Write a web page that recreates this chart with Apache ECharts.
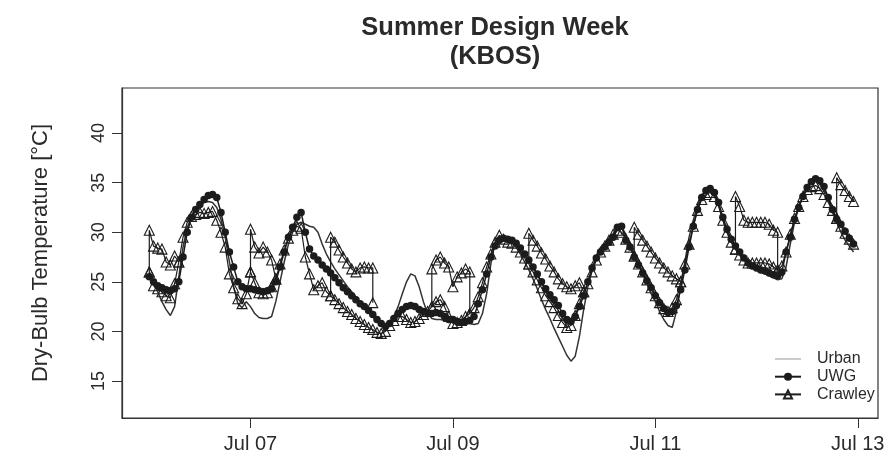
<!DOCTYPE html>
<html>
<head>
<meta charset="utf-8">
<script src="https://cdn.jsdelivr.net/npm/echarts@6/dist/echarts.min.js"></script>
<style>html,body{margin:0;padding:0;background:#fff}#c{width:890px;height:474px}</style>
</head>
<body>
<div id="c"></div>
<script>
// Hours counted from Jul 06 00:00
const xTickHours = [24, 72, 120, 168];
const xTickLabels = ['Jul 07', 'Jul 09', 'Jul 11', 'Jul 13'];
const yTicks = [15, 20, 25, 30, 35, 40];

const urban = [
  26.0, 25.0, 24.0, 23.0, 22.2, 21.6, 22.5, 25.5, 28.5, 30.5, 31.5, 32.2, 32.7, 33.0, 33.1, 33.0, 32.5, 31.3, 29.5, 27.0, 24.5, 22.8, 22.4, 23.0,
  22.5, 21.8, 21.4, 21.3, 21.3, 21.5, 23.0, 25.0, 27.0, 28.8, 30.0, 30.8, 31.0, 30.8, 30.6, 30.5, 30.0, 28.8, 27.8, 27.0, 26.3, 25.7, 25.1, 24.5,
  24.0, 23.5, 23.0, 22.5, 22.0, 21.5, 21.0, 20.6, 20.4, 20.8, 21.5, 22.5, 23.8, 25.0, 25.8, 25.6, 24.5, 23.0, 21.8, 21.3, 21.2, 21.2, 21.1, 21.0,
  21.0, 21.0, 20.9, 20.8, 20.8, 20.7, 20.8, 21.8, 23.8, 26.8, 29.0, 29.3, 29.4, 29.3, 29.0, 28.5, 27.8, 27.0, 26.2, 25.3, 24.3, 23.2, 22.2, 21.3,
  20.3, 19.4, 18.5, 17.6, 17.0, 17.5, 19.5, 22.2, 24.5, 26.3, 27.5, 28.3, 28.8, 29.2, 29.6, 30.2, 30.5, 29.8, 28.8, 27.8, 26.8, 25.8, 24.8, 23.8,
  23.0, 22.0, 21.2, 20.6, 20.4, 22.0, 24.5, 27.0, 29.5, 31.2, 32.7, 33.7, 34.3, 34.5, 34.0, 32.8, 31.3, 30.0, 29.0, 28.3, 27.7, 27.2, 26.8, 26.5,
  26.3, 26.0, 25.8, 25.6, 25.4, 25.2, 25.3, 26.5, 28.8, 31.0, 32.5, 33.7, 34.5, 35.0, 35.2, 35.0, 34.4, 33.3, 32.0, 31.0, 30.0, 29.2, 28.6, 28.0
];

const uwg = [
  25.5, 25.0, 24.6, 24.4, 24.2, 24.1, 24.3, 25.0, 27.5, 30.0, 31.5, 32.3, 32.8, 33.3, 33.7, 33.8, 33.5, 32.0, 30.0, 28.0, 26.5, 25.0, 24.5, 24.3,
  24.3, 24.2, 24.1, 24.0, 24.1, 24.3, 25.0, 26.5, 28.0, 29.5, 30.5, 31.5, 32.0, 30.0, 28.3, 27.6, 27.2, 26.7, 26.3, 25.9, 25.4, 24.9, 24.4, 24.0,
  23.6, 23.2, 22.8, 22.5, 22.1, 21.7, 21.2, 20.8, 20.5, 20.8, 21.3, 21.8, 22.2, 22.5, 22.6, 22.5, 22.2, 22.0, 21.8, 21.8, 21.9, 21.8, 21.5, 21.2,
  21.2, 21.0, 20.9, 21.0, 21.1, 21.5, 22.8, 24.2, 25.8, 27.5, 28.6, 29.2, 29.4, 29.3, 29.2, 28.9, 28.4, 27.8, 27.2, 26.5, 25.8, 25.0, 24.3, 23.7,
  23.2, 22.6, 21.8, 21.2, 21.0, 21.5, 22.5, 23.6, 25.0, 26.4, 27.4, 28.0, 28.5, 29.0, 29.5, 30.5, 30.6, 29.2, 28.5, 27.5, 26.7, 25.9, 25.1, 24.4,
  23.6, 22.9, 22.3, 21.9, 22.0, 22.6, 24.2, 26.2, 28.5, 30.6, 32.3, 33.5, 34.2, 34.4, 34.0, 33.0, 31.5, 30.3, 29.3, 28.6, 28.0, 27.4, 26.9, 26.6,
  26.4, 26.2, 26.1, 25.9, 25.7, 25.6, 26.0, 28.0, 29.5, 31.3, 32.5, 33.6, 34.5, 35.1, 35.4, 35.2, 34.6, 33.5, 32.3, 31.3, 30.8, 30.1, 29.4, 28.8
];

const crawley = [
  26.0, 24.6, 24.3, 24.0, 23.6, 23.4, 24.8, 27.0, 29.5, 31.0, 31.6, 31.8, 32.0, 31.9, 32.0, 32.1, 31.2, 30.0, 28.5, 25.8, 24.4, 23.3, 22.8, 23.8,
  26.0, 24.9, 23.9, 23.8, 23.9, 24.5, 25.3, 26.8, 28.2, 29.4, 30.2, 30.6, 30.4, 27.5, 25.8, 24.2, 24.6, 24.9, 24.0, 23.6, 23.2, 22.8, 22.4, 22.0,
  21.7, 21.3, 21.0, 20.7, 20.4, 20.2, 19.9, 19.8, 20.0, 20.6, 21.1, 21.5, 21.5, 21.2, 20.9, 21.0, 21.3, 21.7, 22.0, 22.5, 23.0, 23.2, 22.5, 21.5,
  20.8, 20.9, 21.1, 21.5, 21.8, 22.4, 23.5, 24.9, 26.5, 27.8, 29.0, 29.7, 29.3, 29.0, 28.9, 28.5, 28.0, 27.4, 26.8, 26.0, 25.2, 24.4, 23.6, 23.0,
  22.4, 21.6, 20.9, 20.4, 20.6, 21.6, 22.8, 24.0, 24.8, 26.0, 27.2, 28.0, 28.6, 29.2, 29.8, 30.2, 30.0, 29.3, 28.5, 27.6, 26.8, 26.0, 25.2, 24.4,
  23.6, 22.9, 22.3, 22.0, 22.4, 23.2, 25.0, 26.8, 28.8, 30.6, 32.2, 33.3, 33.8, 34.0, 33.6, 32.6, 31.2, 30.0, 29.0, 28.3, 27.7, 27.2, 26.9, 26.9,
  26.9, 26.9, 26.9, 26.8, 26.5, 26.2, 26.6, 28.0, 29.8, 31.4, 32.6, 33.6, 34.3, 34.6, 34.7, 34.4, 33.8, 33.0, 32.2, 31.4, 30.6, 29.9, 29.3, 28.8
];

// Overlapping Crawley stretches [hour, value]
const crawleyUpper1 = [[0,26.0],[0,30.2],[1,28.6],[2,28.4],[3,28.3],[4,27.0],[5,26.7],[6,27.6],[7,27.0]];
const crawleyUpper2 = [[24,26.0],[24,30.3],[25,28.5],[26,27.9],[27,28.5],[28,28.0],[29,27.2],[30,25.3]];
const crawleyUpper3 = [[43,23.6],[43,29.5],[44,29.0],[45,28.2],[46,27.5],[47,26.9],[48,26.3],[49,26.0],[50,26.4],[51,26.5],[52,26.4],[53,26.4],[53,22.9]];
const crawleyUpper4 = [[67,22.5],[67,26.3],[68,27.2],[69,27.5],[70,26.9],[71,26.5],[72,24.5],[73,25.5],[74,25.9],[75,26.3],[76,26.0],[76,21.8]];
const crawleyUpper5 = [[90,26.8],[90,29.9],[91,29.2],[92,28.6],[93,27.9],[94,27.3],[95,26.6],[96,26.0],[97,25.3],[98,24.8],[99,24.5],[100,24.3],[101,24.6],[102,24.9],[103,24.0]];
const crawleyUpper6 = [[115,27.6],[115,30.5],[116,29.8],[117,29.2],[118,28.6],[119,28.0],[120,27.4],[121,26.9],[122,26.4],[123,26.0],[124,25.6],[125,25.3],[126,25.0]];
const crawleyUpper7 = [[139,28.3],[139,33.6],[140,32.6],[141,31.2],[142,31.0],[143,31.0],[144,31.0],[145,31.0],[146,31.0],[147,30.8],[148,30.2],[149,30.0],[149,26.2]];
const crawleyUpper8 = [[163,31.4],[163,35.5],[164,34.8],[165,34.2],[166,33.6],[167,33.1]];
const crawleyUppers = [crawleyUpper1, crawleyUpper2, crawleyUpper3, crawleyUpper4, crawleyUpper5, crawleyUpper6, crawleyUpper7, crawleyUpper8];

const hours = urban.map((_, i) => i);
const pair = arr => arr.map((v, i) => [hours[i], v]);

const FONT = "'Liberation Sans', Arial, Helvetica, sans-serif";
const INK = '#1c1c1c';
const TXT = '#2a2a2a';

const crawleyStyle = {
  type: 'line', name: 'Crawley', symbol: 'triangle', symbolSize: 10, showSymbol: true,
  lineStyle: { color: INK, width: 1.2 },
  itemStyle: { color: 'rgba(255,255,255,0)', borderColor: INK, borderWidth: 1.1 },
  emphasis: { disabled: true }, animation: false, z: 4
};

const series = [
  { type: 'line', name: 'Urban', data: pair(urban), showSymbol: false, symbol: 'none',
    lineStyle: { color: '#333', width: 1.5 }, itemStyle: { color: '#555' }, emphasis: { disabled: true }, z: 3 },
  { type: 'line', name: 'UWG', data: pair(uwg), symbol: 'circle', symbolSize: 7.5, showSymbol: true,
    lineStyle: { color: INK, width: 1.5 }, itemStyle: { color: INK, borderWidth: 0 }, emphasis: { disabled: true }, z: 3 },
  Object.assign({}, crawleyStyle, { data: pair(crawley) })
];
crawleyUppers.forEach(seg => series.push(Object.assign({}, crawleyStyle, { data: seg })));

const chart = echarts.init(document.getElementById('c'), null, { renderer: 'canvas' });
chart.setOption({
  animation: false,
  backgroundColor: '#fff',
  title: {
    text: 'Summer Design Week\n(KBOS)',
    left: 490, top: 9, textAlign: 'center',
    textStyle: { fontFamily: FONT, fontSize: 25.5, fontWeight: 'bold', color: TXT, lineHeight: 28.5 }
  },
  legend: {
    data: [
      { name: 'Urban', itemStyle: { opacity: 0 }, lineStyle: { color: '#999', width: 1 } },
      { name: 'UWG' },
      { name: 'Crawley' }
    ],
    orient: 'vertical', left: 774, top: 351, padding: 0,
    itemWidth: 26, itemHeight: 10, itemGap: 1.7,
    textStyle: { fontFamily: FONT, fontSize: 16, color: TXT, padding: [0, 0, 0, 11] },
    selectedMode: false
  },
  grid: { left: 122, right: 12, top: 88, bottom: 56, show: true, borderColor: '#333', borderWidth: 1.2, containLabel: false },
  xAxis: {
    type: 'value', min: -6.47, max: 172.8,
    axisLine: { show: true, onZero: false, lineStyle: { color: '#333', width: 1.2 } },
    axisTick: { show: true, inside: false, length: 10, customValues: xTickHours, lineStyle: { color: '#333' } },
    axisLabel: { customValues: xTickHours, margin: 16, fontFamily: FONT, fontSize: 20, color: TXT,
      formatter: v => xTickLabels[xTickHours.indexOf(v)] },
    splitLine: { show: false }
  },
  yAxis: {
    type: 'value', min: 11.27, max: 44.54,
    name: 'Dry-Bulb Temperature [°C]', nameLocation: 'middle', nameRotate: 90, nameGap: 70,
    nameTextStyle: { fontFamily: FONT, fontSize: 22, color: TXT },
    axisLine: { show: true, onZero: false, lineStyle: { color: '#333', width: 1.2 } },
    axisTick: { show: true, inside: false, length: 10, customValues: yTicks, lineStyle: { color: '#333' } },
    axisLabel: { customValues: yTicks, rotate: 90, margin: 14, fontFamily: FONT, fontSize: 18, color: TXT },
    splitLine: { show: false }
  },
  series: series
});
</script>
</body>
</html>
